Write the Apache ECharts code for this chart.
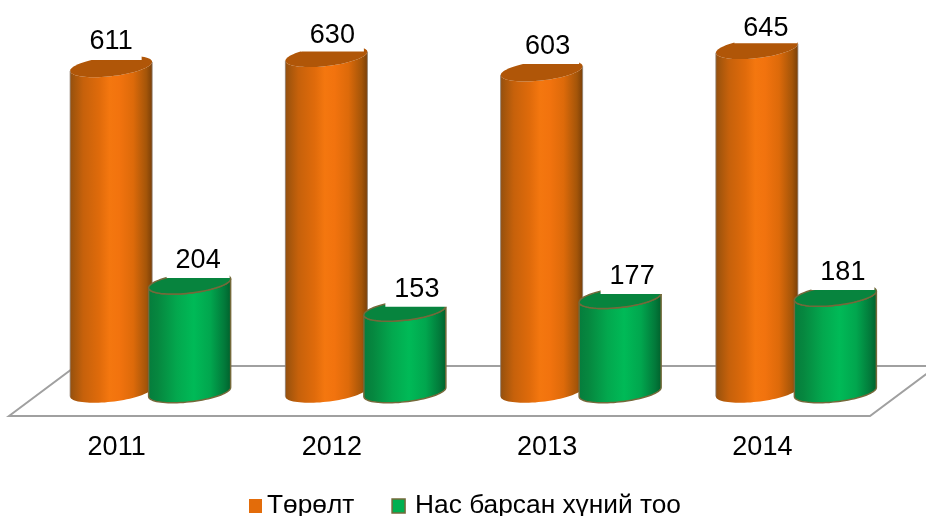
<!DOCTYPE html>
<html><head><meta charset="utf-8">
<style>html,body{margin:0;padding:0;background:#fff}#c{width:926px;height:516px}</style>
<script src="https://cdn.jsdelivr.net/npm/echarts@6/dist/echarts.min.js"></script>
</head><body><div id="c"></div>
<script>
const years = ['2011','2012','2013','2014'];
const births = [611,630,603,645];
const deaths = [204,153,177,181];
const birthName = 'Төрөлт';
const deathName = 'Нас барсан хүний тоо';
// label placement relative to the bar's top: [dx, dy of white box, text padding under]
const birthNudge = [[0,-6.5,3],[6,-4.7,1],[6,-6.8,2],[9,-5.1,0]];
const deathNudge = [[8.5,-5.3,2],[12,-3.8,2],[12,-3.7,2],[7.5,-5.6,2]];

const FONT = '"Liberation Sans", Arial, sans-serif';
const RX = 41, RY = 9.8, TILT = 4.5, SHIFT = 33.5, DEPTH_X = 67, FRONT = 24, BACK = 26;

function ellipsePts(cx, cy, from, to, n) {
  const pts = [];
  for (let i = 0; i <= n; i++) {
    const t = from + (to - from) * i / n;
    const c = Math.cos(t), s = Math.sin(t);
    pts.push([cx + RX * c, cy + RY * s - TILT * c]);
  }
  return pts;
}
function grad(stops) {
  return new echarts.graphic.LinearGradient(0, 0, 1, 0, stops.map(s => ({offset: s[0], color: s[1]})));
}
const orangeStyle = {
  side: [[0,'#94500f'],[0.06,'#a8570c'],[0.16,'#c6610b'],[0.36,'#e06b0b'],[0.48,'#f4770f'],[0.6,'#f2730e'],[0.77,'#dd6a0a'],[0.93,'#a45509'],[1,'#7b4008']],
  top: '#b05608', stroke: null, edge: 'rgba(140,125,110,0.8)'
};
const greenStyle = {
  side: [[0,'#057c3c'],[0.12,'#06873f'],[0.35,'#03a84e'],[0.55,'#00ba57'],[0.75,'#01a64e'],[0.92,'#02793a'],[1,'#005f2b']],
  top: '#07843e', stroke: '#74693a', edge: '#74693a'
};

function cylinderSeries(name, values, nudge, dx, look, color, z) {
  return {
    name, type: 'custom', z,
    itemStyle: {color},
    encode: {x: 0, y: 1},
    data: values.map((v, i) => [i, v]),
    renderItem(params, api) {
      const i = api.value(0), v = api.value(1);
      const base = api.coord([i, 0]), head = api.coord([i, v]);
      const cx = base[0] + SHIFT + dx;
      const yb = base[1], yt = head[1];
      const bottomArc = ellipsePts(cx, yb, 0, Math.PI, 40);
      const topArc = ellipsePts(cx, yt, Math.PI, 0, 40);
      const topFull = ellipsePts(cx, yt, 0, Math.PI * 2, 80);
      const sw = look.stroke ? 1.5 : 0;
      const side = {type: 'polygon', shape: {points: bottomArc.concat(topArc)},
        style: {fill: grad(look.side), stroke: look.stroke || 'none', lineWidth: sw}};
      const cap = {type: 'polygon', shape: {points: topFull},
        style: {fill: look.top, stroke: look.stroke || 'none', lineWidth: sw}};
      const kids = [side, cap];
      if (!look.stroke) {
        const a = bottomArc[bottomArc.length - 1], b = topArc[0];
        const c = bottomArc[0], d = topArc[topArc.length - 1];
        kids.push({type: 'line', shape: {x1: a[0], y1: a[1], x2: b[0], y2: b[1]}, style: {stroke: look.edge, lineWidth: 1}});
        kids.push({type: 'line', shape: {x1: c[0], y1: c[1], x2: d[0], y2: d[1]}, style: {stroke: look.edge, lineWidth: 1}});
      }
      kids.push({type: 'text', z2: 10, style: {
        text: String(v), x: cx + nudge[i][0], y: yt + nudge[i][1],
        align: 'center', verticalAlign: 'bottom', fill: '#000',
        font: '27px ' + FONT, lineHeight: 30,
        backgroundColor: '#fff', padding: [2, 9, nudge[i][2], 9]
      }});
      return {type: 'group', children: kids};
    }
  };
}

const floorSeries = {
  name: 'floor', type: 'custom', z: 1, silent: true,
  data: [[0, 0]],
  encode: {x: 0, y: 1},
  renderItem(params, api) {
    const y0 = api.coord([0, 0])[1];
    const x0 = params.coordSys.x, x1 = x0 + params.coordSys.width;
    const yf = y0 + FRONT, yb = y0 - BACK;
    return {type: 'polygon', shape: {points: [[x0, yf], [x0 + DEPTH_X, yb], [x1 + DEPTH_X, yb], [x1, yf]]},
      style: {fill: '#fff', stroke: '#a0a0a0', lineWidth: 2}};
  }
};

const chart = echarts.init(document.getElementById('c'), null, {renderer: 'canvas'});
chart.setOption({
  animation: false,
  backgroundColor: '#fff',
  grid: {left: 9, width: 861, top: 19, height: 373},
  xAxis: {type: 'category', data: years, axisLine: {show: false}, axisTick: {show: false},
    axisLabel: {color: '#000', fontSize: 27, fontFamily: FONT, margin: 42}},
  yAxis: {type: 'value', min: 0, max: 700, show: false, splitLine: {show: false}},
  legend: {
    left: 244, top: 488, itemWidth: 13, itemHeight: 14, itemGap: 37, icon: 'rect',
    textStyle: {color: '#000', fontSize: 26.3, fontFamily: FONT},
    data: [
      {name: birthName, itemStyle: {color: '#e36c0a'}},
      {name: deathName, itemStyle: {color: '#00b050', borderColor: '#74693a', borderWidth: 1.5},
       textStyle: {padding: [0, 0, 0, 5]}}
    ]
  },
  series: [
    floorSeries,
    cylinderSeries(birthName, births, birthNudge, -39, orangeStyle, '#e36c0a', 2),
    cylinderSeries(deathName, deaths, deathNudge, 39.5, greenStyle, '#00b050', 3)
  ]
});
</script></body></html>
